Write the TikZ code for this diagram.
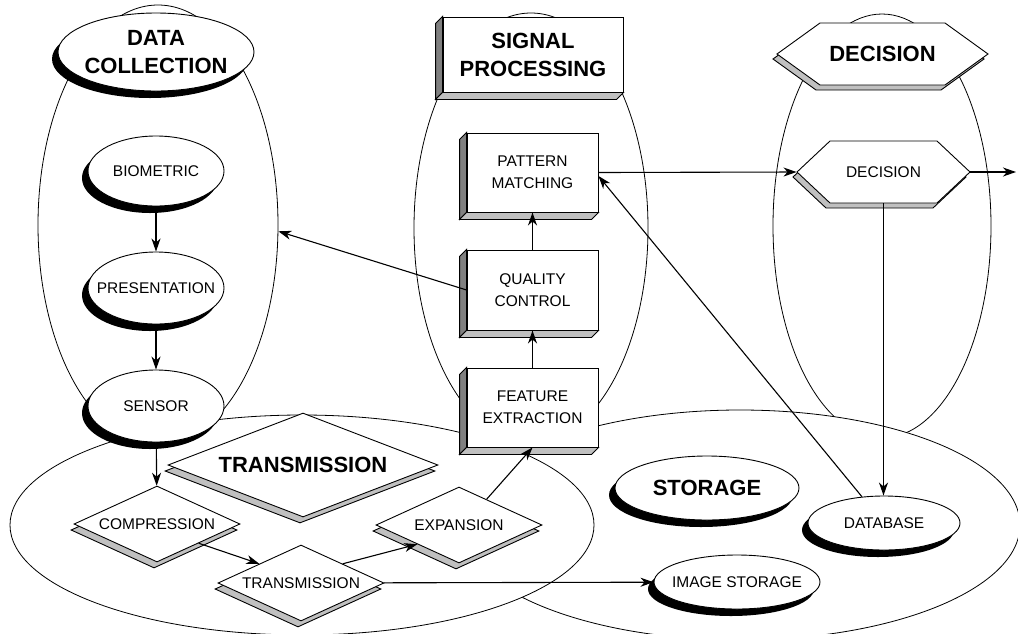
\documentclass[tikz,border=0pt]{standalone}
\usepackage{fontspec}
\setmainfont{Liberation Sans}
\usetikzlibrary{shapes.geometric,shadows,arrows.meta}
\definecolor{FaceDark}{RGB}{128,128,128}
\definecolor{FaceLight}{RGB}{192,192,192}

\newcommand\blockfaces[1]{%
  \filldraw[fill=FaceDark] (#1.north west) -- ++(-7,7) -- ([shift={(-7,7)}]#1.south west) -- (#1.south west) -- cycle;
  \filldraw[fill=FaceLight] (#1.south west) -- ([shift={(-7,7)}]#1.south west) -- ([shift={(-7,7)}]#1.south east) -- (#1.south east) -- cycle;}
\newcommand\hexplate[5]{%
  \foreach \dx/\dy/\col in {-4/5/FaceLight,0/0/white}
    \filldraw[fill=\col,shift={(#1,#2)},shift={(\dx,\dy)}] ({-#3/2},0) -- ({-#3/2+#5},{-#4/2}) -- ({#3/2-#5},{-#4/2})
      -- ({#3/2},0) -- ({#3/2-#5},{#4/2}) -- ({-#3/2+#5},{#4/2}) -- cycle;}

\begin{document}
\begin{tikzpicture}[x=1pt,y=-1pt,line width=.9pt,
  area/.style n args={3}{ellipse,draw,fill=#3,minimum width=#1,minimum height=#2,inner sep=0pt,line width=.8pt},
  big/.style={font=\bfseries\fontsize{22}{28}\selectfont,align=center},
  small/.style={font=\fontsize{15.5}{22}\selectfont,align=center},
  oval/.style 2 args={ellipse,draw,fill=white,minimum width=#1,minimum height=#2,inner xsep=-20pt,inner ysep=0pt,
    general shadow={fill=black,shadow xshift=-6pt,shadow yshift=-7pt}},
  block/.style 2 args={rectangle,draw,fill=white,minimum width=#1,minimum height=#2,inner sep=0pt},
  rhomb/.style 2 args={diamond,draw,fill=white,minimum width=#1,minimum height=#2,inner sep=0pt,aspect=2,
    general shadow={fill=FaceLight,draw=black,shadow xshift=-3pt,shadow yshift=-6pt}},
  plate/.style 2 args={rectangle,minimum width=#1,minimum height=#2,inner sep=0pt},
  link/.style={-{Stealth[length=13pt,width=9pt,inset=4pt]},line width=1.1pt}]
\useasboundingbox (0,0) rectangle (1018,633);

\node[area={240}{440}{none}] (dcarea) at (158,225) {};
\node[area={234}{430}{none}] (sparea) at (531,228) {};
\node[area={218}{424}{none}] (decarea) at (882,226) {};
\node[area={560}{230}{white}] (starea) at (740,525) {};
\node[area={584}{220}{white}] (trarea) at (302,525) {};

\node[oval={196}{78},big] (datacol) at (156,52) {DATA\\COLLECTION};
\node[oval={136}{70},small] (biometric) at (156,171) {BIOMETRIC};
\node[oval={136}{72},small] (present) at (156,288) {PRESENTATION};
\node[oval={136}{72},small] (sensor) at (156,406) {SENSOR};

\node[block={180}{75},big] (sigproc) at (533,54.5) {SIGNAL\\PROCESSING};
\node[block={131}{79},small] (pattern) at (532.5,172.5) {PATTERN\\MATCHING};
\node[block={131}{80},small] (quality) at (532.5,290) {QUALITY\\CONTROL};
\node[block={131}{79},small] (feature) at (532.5,407.5) {FEATURE\\EXTRACTION};
\foreach \n in {sigproc,pattern,quality,feature} {\blockfaces{\n}}

\hexplate{882.5}{54}{211}{62}{43}
\node[plate={211}{62},big] (decbig) at (882.5,54) {DECISION};
\hexplate{883.5}{172}{173}{62}{33}
\node[plate={173}{62},small] (decision) at (883.5,172) {DECISION};
\coordinate (decout) at (1016,172);

\node[rhomb={270}{104},big] (transbig) at (303,465) {TRANSMISSION};
\node[rhomb={166}{76},small] (compress) at (157,524) {COMPRESSION};
\node[rhomb={166}{76},small] (transmit) at (301,583) {TRANSMISSION};
\node[rhomb={166}{76},small] (expand) at (459,525) {EXPANSION};

\node[oval={184}{64},big] (storage) at (707,488) {STORAGE};
\node[oval={152}{54},small] (database) at (884,523) {DATABASE};
\node[oval={166}{54},small] (imgstore) at (737,582) {IMAGE STORAGE};

\draw[link] (biometric) -- (present);
\draw[link] (present) -- (sensor);
\draw[link] (sensor) -- (compress);
\draw[link] (compress.south east) -- (transmit.north west);
\draw[link] (transmit.north east) -- (expand.south west);
\draw[link] (expand.43) -- (feature.south);
\draw[link] (transmit) -- (imgstore);
\draw[link] (feature) -- (quality);
\draw[link] (quality) -- (pattern);
\draw[link] (quality.west) -- (dcarea.-3.5);
\draw[link] (pattern.east) -- (decision.west);
\draw[link] (decision.east) -- (decout);
\draw[link] (decision.south) -- (decision.south |- database.north);
\draw[link] (database.130) -- (pattern.-3);
\end{tikzpicture}
\end{document}
